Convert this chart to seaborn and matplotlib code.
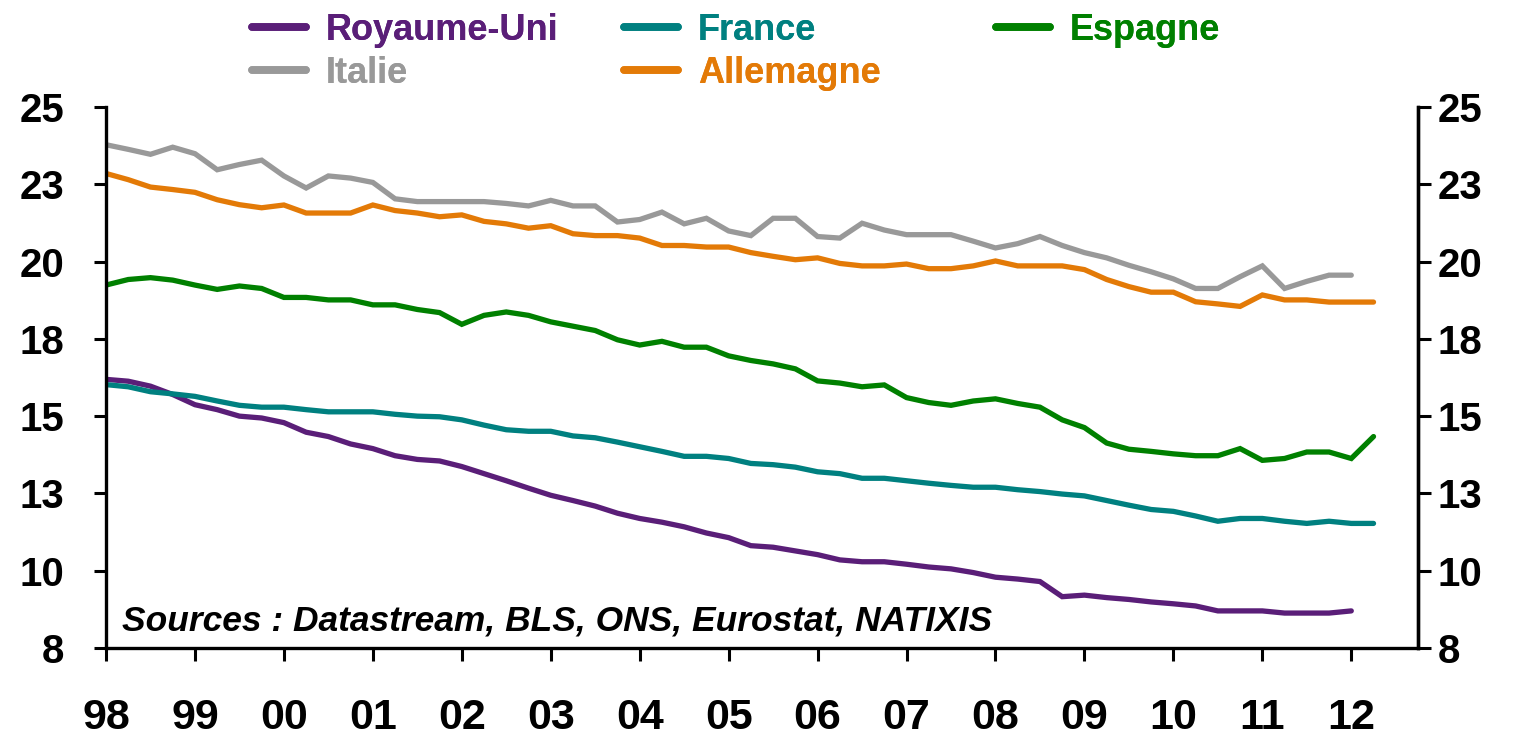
import numpy as np
import pandas as pd
import matplotlib
matplotlib.use("Agg")
import matplotlib.pyplot as plt
import seaborn as sns
from matplotlib.lines import Line2D

# ---------------- data (quarterly, from 1998Q1) ----------------
years = ["98", "99", "00", "01", "02", "03", "04", "05", "06", "07", "08", "09", "10", "11", "12"]

royaume_uni = [16.19, 16.13, 15.97, 15.70, 15.37, 15.21, 15.00, 14.94, 14.79, 14.48,
               14.34, 14.10, 13.95, 13.72, 13.60, 13.55, 13.37, 13.14, 12.91, 12.67,
               12.44, 12.27, 12.09, 11.86, 11.69, 11.57, 11.42, 11.22, 11.07, 10.81,
               10.76, 10.64, 10.52, 10.35, 10.29, 10.29, 10.21, 10.12, 10.06, 9.94,
               9.79, 9.73, 9.65, 9.16, 9.21, 9.13, 9.07, 8.99, 8.93, 8.86,
               8.70, 8.70, 8.70, 8.63, 8.63, 8.63, 8.70]

france = [16.02, 15.95, 15.79, 15.72, 15.64, 15.49, 15.35, 15.29, 15.29, 15.21,
          15.14, 15.14, 15.14, 15.06, 15.00, 14.98, 14.88, 14.71, 14.56, 14.51,
          14.51, 14.36, 14.30, 14.16, 14.01, 13.86, 13.70, 13.70, 13.63, 13.47,
          13.43, 13.35, 13.20, 13.14, 12.99, 12.99, 12.91, 12.83, 12.76, 12.70,
          12.70, 12.62, 12.56, 12.48, 12.42, 12.27, 12.12, 11.98, 11.92, 11.77,
          11.60, 11.69, 11.69, 11.60, 11.53, 11.60, 11.53, 11.53]

espagne = [19.24, 19.42, 19.48, 19.40, 19.24, 19.10, 19.21, 19.13, 18.84, 18.84,
           18.76, 18.76, 18.60, 18.60, 18.45, 18.35, 17.97, 18.26, 18.37, 18.26,
           18.05, 17.91, 17.77, 17.47, 17.30, 17.42, 17.23, 17.23, 16.95, 16.80,
           16.69, 16.53, 16.14, 16.07, 15.95, 16.01, 15.60, 15.44, 15.35, 15.49,
           15.56, 15.41, 15.29, 14.88, 14.63, 14.13, 13.93, 13.86, 13.78, 13.72,
           13.72, 13.95, 13.57, 13.63, 13.84, 13.84, 13.63, 14.34]

italie = [23.78, 23.63, 23.47, 23.70, 23.49, 22.97, 23.14, 23.28, 22.77, 22.38,
          22.77, 22.70, 22.56, 22.03, 21.94, 21.94, 21.94, 21.94, 21.88, 21.80,
          21.98, 21.80, 21.80, 21.28, 21.36, 21.60, 21.22, 21.40, 20.99, 20.84,
          21.40, 21.40, 20.81, 20.76, 21.24, 21.02, 20.87, 20.87, 20.87, 20.66,
          20.44, 20.58, 20.81, 20.52, 20.29, 20.12, 19.88, 19.67, 19.44, 19.13,
          19.13, 19.51, 19.86, 19.13, 19.36, 19.56, 19.56]

allemagne = [22.85, 22.65, 22.41, 22.33, 22.24, 22.00, 21.84, 21.74, 21.83, 21.57,
             21.57, 21.57, 21.83, 21.65, 21.57, 21.45, 21.51, 21.30, 21.22, 21.08,
             21.16, 20.90, 20.84, 20.84, 20.76, 20.52, 20.52, 20.47, 20.47, 20.29,
             20.17, 20.06, 20.12, 19.94, 19.86, 19.86, 19.92, 19.77, 19.77, 19.86,
             20.02, 19.86, 19.86, 19.86, 19.74, 19.42, 19.19, 19.01, 19.01, 18.70,
             18.63, 18.55, 18.92, 18.76, 18.76, 18.69, 18.69, 18.69]

series_names = ["Royaume-Uni", "Italie", "France", "Allemagne", "Espagne"]
series_values = [royaume_uni, italie, france, allemagne, espagne]
colors = {"Royaume-Uni": "#5A1E78", "Italie": "#999999", "France": "#008080",
          "Allemagne": "#E37A07", "Espagne": "#008000"}

y_ticks = [7.5, 10, 12.5, 15, 17.5, 20, 22.5, 25]
y_labels = ["8", "10", "13", "15", "18", "20", "23", "25"]

source_text = "Sources : Datastream, BLS, ONS, Eurostat, NATIXIS"

# ---------------- build long frame ----------------
frames = []
for name, vals in zip(series_names, series_values):
    frames.append(pd.DataFrame({"q": np.arange(len(vals)), "val": vals, "pays": name}))
df = pd.concat(frames, ignore_index=True)

sns.set_theme(style="white")
plt.rcParams["font.family"] = ["Liberation Sans", "DejaVu Sans"]
plt.rcParams["font.weight"] = "bold"
plt.rcParams["text.color"] = "black"
plt.rcParams["xtick.color"] = "black"
plt.rcParams["ytick.color"] = "black"

fig = plt.figure(figsize=(15.19, 7.40), dpi=100)
ax = fig.add_axes([106 / 1519, 1 - 648 / 740, (1418 - 106) / 1519, (648 - 107) / 740])

sns.lineplot(data=df, x="q", y="val", hue="pays", hue_order=series_names,
             palette=colors, linewidth=3.8, ax=ax, legend=False,
             solid_capstyle="round", solid_joinstyle="miter")

ax.set_xlim(0, 59)
ax.set_ylim(7.5, 25)
ax.set_xlabel("")
ax.set_ylabel("")
ax.set_xticks(np.arange(len(years)) * 4)
ax.set_xticklabels(years, fontsize=31, fontweight="bold", color="black")
ax.set_yticks(y_ticks)
ax.set_yticklabels(y_labels, fontsize=29, fontweight="bold", color="black")

for side in ["left", "right", "bottom"]:
    ax.spines[side].set_visible(True)
    ax.spines[side].set_color("black")
    ax.spines[side].set_linewidth(2.4)
ax.spines["top"].set_visible(False)

ax.tick_params(axis="x", direction="out", length=9, width=2.2, color="black",
               labelcolor="black", pad=27, bottom=True)
ax.tick_params(axis="y", direction="out", length=9, width=2.2, color="black",
               labelcolor="black", pad=21, left=True)

ax2 = ax.twinx()
ax2.set_ylim(7.5, 25)
ax2.set_yticks(y_ticks)
ax2.set_yticklabels(y_labels, fontsize=29, fontweight="bold", color="black")
ax2.tick_params(axis="y", direction="out", length=9, width=2.2, color="black",
                labelcolor="black", pad=5, right=True)
for side in ["left", "top", "bottom"]:
    ax2.spines[side].set_visible(False)
ax2.spines["right"].set_color("black")
ax2.spines["right"].set_linewidth(2.4)
ax2.grid(False)
ax.grid(False)

ax.text(0.012, 0.05, source_text, transform=ax.transAxes, fontsize=25.5,
        fontweight="bold", fontstyle="italic", va="center", ha="left", color="black")

# ---------------- legend (three columns) ----------------
columns = [["Royaume-Uni", "Italie"], ["France", "Allemagne"], ["Espagne"]]
col_x = [252 / 1519, 624 / 1519, 996 / 1519]
for names, xpos in zip(columns, col_x):
    handles = [Line2D([0], [0], color=colors[n], lw=5.5, solid_capstyle="round") for n in names]
    leg = fig.legend(handles, names, loc="upper left", bbox_to_anchor=(xpos, 0.983),
                     frameon=False, handlelength=1.5, handletextpad=0.55,
                     labelspacing=0.22, borderpad=0, borderaxespad=0,
                     prop={"weight": "bold", "size": 26})
    for txt, n in zip(leg.get_texts(), names):
        txt.set_color(colors[n])
    fig.add_artist(leg)

fig.savefig("out.png", dpi=100)
